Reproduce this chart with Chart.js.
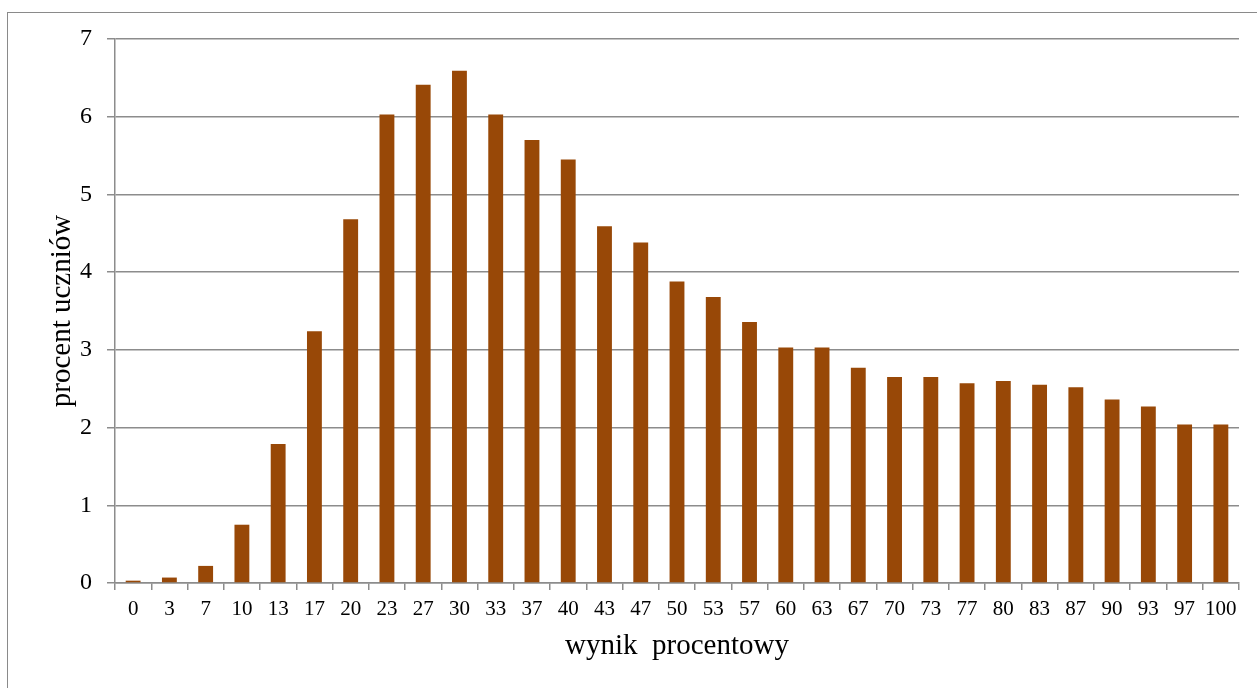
<!DOCTYPE html>
<html>
<head>
<meta charset="utf-8">
<script src="https://cdn.jsdelivr.net/npm/chart.js@4/dist/chart.umd.min.js"></script>
<style>
  html, body { margin: 0; padding: 0; background: #fff; overflow: hidden; }
  #wrap { position: relative; width: 1257px; height: 688px; }
  #frame { position: absolute; left: 7px; top: 12px; width: 1300px; height: 700px; border: 1.5px solid #8a8a8a; box-sizing: border-box; }
  canvas { position: absolute; left: 0; top: 0; }
</style>
</head>
<body>
<div id="wrap">
  <div id="frame"></div>
  <canvas id="c" width="1257" height="688"></canvas>
</div>
<script>
  // wynik procentowy (kategorie) i procent uczniów
  var wyniki = ['0','3','7','10','13','17','20','23','27','30','33','37','40','43','47','50',
                '53','57','60','63','67','70','73','77','80','83','87','90','93','97','100'];
  var procent = [0.03, 0.07, 0.22, 0.75, 1.79, 3.24, 4.68, 6.03, 6.41, 6.59, 6.03, 5.70, 5.45, 4.59, 4.38, 3.88,
                 3.68, 3.36, 3.03, 3.03, 2.77, 2.65, 2.65, 2.57, 2.60, 2.55, 2.52, 2.36, 2.27, 2.04, 2.04];
  var yTicks = [0, 1, 2, 3, 4, 5, 6, 7];

  var GRID = '#8c8c8c';
  var FONT = 'Liberation Serif';

  new Chart(document.getElementById('c'), {
    type: 'bar',
    data: {
      labels: wyniki,
      datasets: [{ data: procent, backgroundColor: '#984807', borderWidth: 0,
                   barPercentage: 0.41, categoryPercentage: 1.0 }]
    },
    options: {
      responsive: false, animation: false,
      layout: { padding: { left: 0, top: 39, right: 18, bottom: 0 } },
      plugins: { legend: { display: false }, tooltip: { enabled: false } },
      scales: {
        x: {
          grid: { display: true, drawOnChartArea: false, drawTicks: true, tickLength: 7, color: GRID, lineWidth: 1.5, offset: true },
          border: { display: true, color: GRID, width: 1.5 },
          ticks: { color: '#000', font: { family: FONT, size: 21 }, padding: 7, maxRotation: 0, autoSkip: false },
          title: { display: true, text: 'wynik  procentowy', color: '#000', font: { family: FONT, size: 29 }, padding: { top: 0, bottom: 24 } },
          afterFit: function(s) { s.height = 105; }
        },
        y: {
          min: 0, max: 7,
          afterBuildTicks: function(s) { s.ticks = yTicks.map(function(v) { return { value: v }; }); },
          grid: { color: GRID, lineWidth: 1.5, tickLength: 8 },
          border: { display: true, color: GRID, width: 1.5 },
          ticks: { color: '#000', font: { family: FONT, size: 24 }, padding: 15 },
          title: { display: true, text: 'procent uczniów', color: '#000', font: { family: FONT, size: 29 }, padding: { top: 45, bottom: 0 } },
          afterFit: function(s) { s.width = 115; }
        }
      }
    }
  });
</script>
</body>
</html>
